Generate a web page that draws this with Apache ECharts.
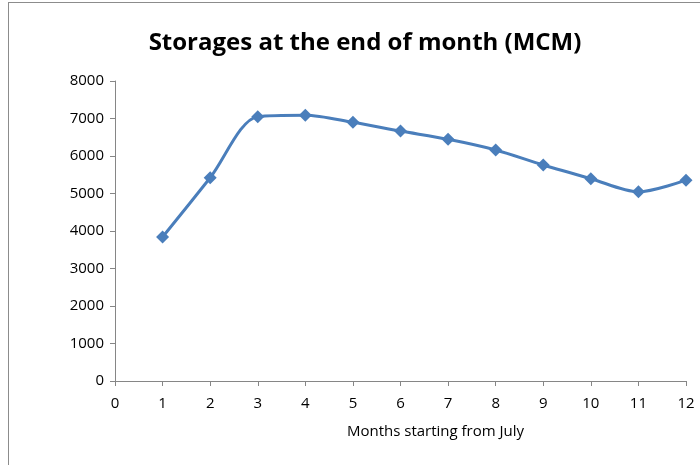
<!DOCTYPE html>
<html>
<head>
<meta charset="utf-8">
<title>Storages</title>
<script src="https://cdn.jsdelivr.net/npm/echarts@6/dist/echarts.min.js"></script>
<style>
  html, body { margin: 0; padding: 0; background: #fff; }
  #main { width: 700px; height: 465px; }
</style>
</head>
<body>
<div id="main"></div>
<script>
var months = [1, 2, 3, 4, 5, 6, 7, 8, 9, 10, 11, 12];
var storage = [3840, 5420, 7050, 7090, 6900, 6665, 6445, 6160, 5760, 5395, 5045, 5355];

var font = "'Open Sans', sans-serif";
var chart = echarts.init(document.getElementById('main'));

var option = {
  animation: false,
  title: {
    text: 'Storages at the end of month (MCM)',
    left: 360,
    textAlign: 'center',
    top: 26,
    textStyle: { fontFamily: font, fontSize: 24, fontWeight: 'bold', color: '#000' }
  },
  graphic: [
    { type: 'line', shape: { x1: 8, y1: 2.5, x2: 700, y2: 2.5 }, style: { stroke: '#8c8c8c', lineWidth: 1 } },
    { type: 'line', shape: { x1: 8.5, y1: 2, x2: 8.5, y2: 465 }, style: { stroke: '#8c8c8c', lineWidth: 1 } }
  ],
  grid: { left: 115, right: 14, top: 81, bottom: 84 },
  xAxis: {
    type: 'value',
    min: 0, max: 12, interval: 1,
    name: 'Months starting from July',
    nameLocation: 'middle',
    nameGap: 43,
    nameTextStyle: { fontFamily: font, fontSize: 15, color: '#000', padding: [0, 0, 0, 70] },
    axisLine: { lineStyle: { color: '#868686' } },
    axisTick: { show: true, length: 5, lineStyle: { color: '#868686' } },
    axisLabel: { fontFamily: font, fontSize: 15, color: '#000', margin: 15 },
    splitLine: { show: false }
  },
  yAxis: {
    type: 'value',
    min: 0, max: 8000, interval: 1000,
    axisLine: { show: true, lineStyle: { color: '#868686' } },
    axisTick: { show: true, length: 5, lineStyle: { color: '#868686' } },
    axisLabel: { fontFamily: font, fontSize: 15, color: '#000', margin: 11, formatter: function (v) { return String(v); } },
    splitLine: { show: false }
  },
  series: [{
    type: 'line',
    data: months.map(function (m, i) { return [m, storage[i]]; }),
    smooth: 0.3,
    symbol: 'diamond',
    symbolSize: 13,
    lineStyle: { color: '#4a7ebb', width: 3 },
    itemStyle: { color: '#4a7ebb' }
  }]
};

chart.setOption(option);
</script>
</body>
</html>
